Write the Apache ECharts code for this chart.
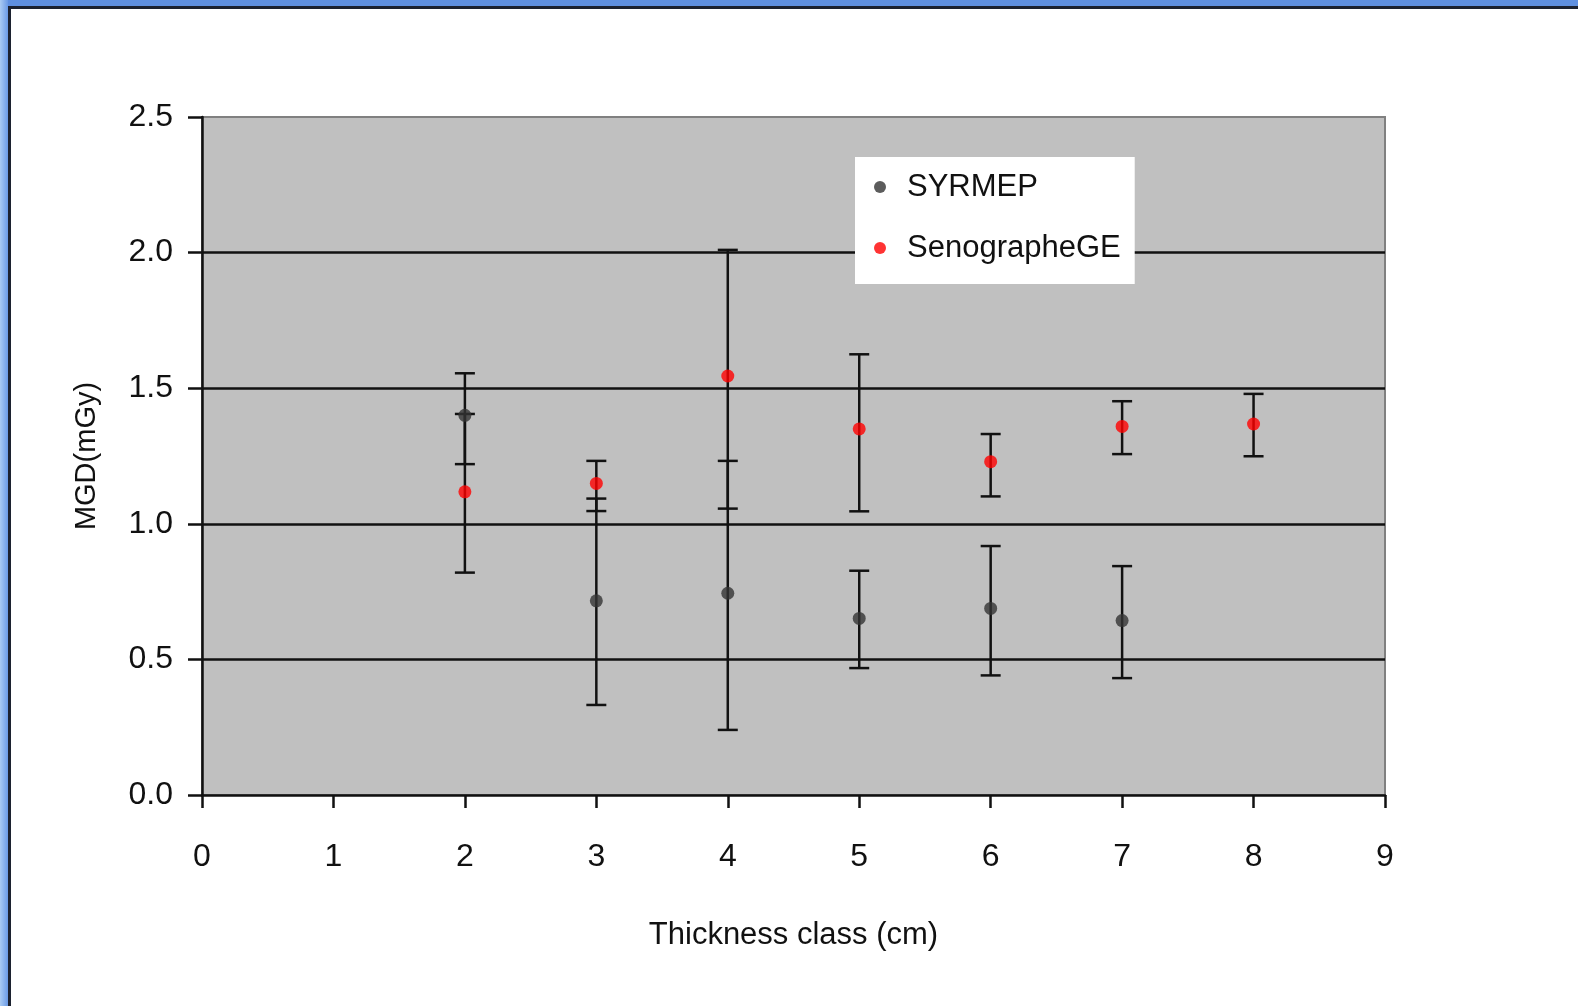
<!DOCTYPE html>
<html>
<head>
<meta charset="utf-8">
<script src="https://cdn.jsdelivr.net/npm/echarts@6/dist/echarts.min.js"></script>
<style>
  html, body { margin: 0; padding: 0; background: #ffffff; }
  #frameTop { position: absolute; left: 0; top: 0; width: 1578px; height: 6px; background: #5f90e0; }
  #frameTopLine { position: absolute; left: 8px; top: 6px; width: 1570px; height: 3px; background: #1c2230; }
  #frameLeft { position: absolute; left: 0; top: 0; width: 8px; height: 1006px; background: linear-gradient(to right, #aacbf3, #6a9ae6); }
  #frameLeftLine { position: absolute; left: 8px; top: 6px; width: 3px; height: 1000px; background: #1c2230; }
  #chart { position: absolute; left: 0; top: 0; width: 1578px; height: 1006px; }
</style>
</head>
<body>
<div id="chart"></div>
<div id="frameTop"></div>
<div id="frameLeft"></div>
<div id="frameTopLine"></div>
<div id="frameLeftLine"></div>
<script>
// Thickness classes (cm)
var classes = [2, 3, 4, 5, 6, 7, 8];
// SYRMEP MGD (mGy) and error bar ends
var syrmep     = [1.40, 0.716, 0.744, 0.651, 0.688, 0.643, null];
var syrmepLow  = [1.22, 0.332, 0.240, 0.468, 0.441, 0.431, null];
var syrmepHigh = [1.555, 1.093, 1.232, 0.827, 0.918, 0.844, null];
// Senographe GE MGD (mGy) and error bar ends
var seno       = [1.118, 1.149, 1.545, 1.350, 1.229, 1.359, 1.368];
var senoLow    = [0.82, 1.047, 1.056, 1.046, 1.101, 1.257, 1.249];
var senoHigh   = [1.405, 1.232, 2.010, 1.625, 1.331, 1.452, 1.479];
// Axis ticks
var xTicks = [0, 1, 2, 3, 4, 5, 6, 7, 8, 9];
var yTicks = [0.0, 0.5, 1.0, 1.5, 2.0, 2.5];

var FONT = "'Liberation Sans Narrow', 'Arial Narrow', 'Liberation Sans', Arial, sans-serif";
var TXT = '#111111';

function pts(vals) {
  var out = [];
  for (var i = 0; i < classes.length; i++) if (vals[i] != null) out.push([classes[i], vals[i]]);
  return out;
}
function errs(lo, hi) {
  var out = [];
  for (var i = 0; i < classes.length; i++) if (lo[i] != null) out.push([classes[i], lo[i], hi[i]]);
  return out;
}
function renderErr(params, api) {
  var x = api.value(0);
  var lo = api.coord([x, api.value(1)]);
  var hi = api.coord([x, api.value(2)]);
  var hw = 10;
  var st = { stroke: '#111111', lineWidth: 2.5 };
  return {
    type: 'group',
    children: [
      { type: 'line', shape: { x1: lo[0], y1: lo[1], x2: hi[0], y2: hi[1] }, style: st },
      { type: 'line', shape: { x1: lo[0] - hw, y1: lo[1], x2: lo[0] + hw, y2: lo[1] }, style: st },
      { type: 'line', shape: { x1: hi[0] - hw, y1: hi[1], x2: hi[0] + hw, y2: hi[1] }, style: st }
    ]
  };
}

var chart = echarts.init(document.getElementById('chart'), null, { renderer: 'canvas' });
chart.setOption({
  animation: false,
  backgroundColor: '#ffffff',
  textStyle: { fontFamily: FONT },
  grid: {
    left: 202, top: 117, right: 193, bottom: 211,
    show: true, backgroundColor: '#c0c0c0', borderColor: '#808080', borderWidth: 2
  },
  legend: {
    left: 855, top: 157,
    orient: 'vertical',
    backgroundColor: '#ffffff',
    padding: [13, 14, 19, 19],
    itemGap: 27,
    itemWidth: 12, itemHeight: 12,
    icon: 'circle',
    data: ['SYRMEP', 'SenographeGE'],
    textStyle: { fontFamily: FONT, fontSize: 31, color: TXT, lineHeight: 34, padding: [0, 0, 0, 16] }
  },
  xAxis: {
    type: 'value', min: 0, max: 9, interval: 1,
    name: 'Thickness class (cm)', nameLocation: 'middle', nameGap: 125,
    nameTextStyle: { fontFamily: FONT, fontSize: 31, color: TXT },
    axisLine: { show: true, onZero: false, lineStyle: { color: '#111111', width: 2.5 } },
    axisTick: { show: true, inside: false, length: 13, lineStyle: { color: '#111111', width: 2.5 } },
    axisLabel: { margin: 46, fontFamily: FONT, fontSize: 32, color: TXT,
      formatter: function (v) { return xTicks.indexOf(v) >= 0 ? String(v) : ''; } },
    splitLine: { show: false }
  },
  yAxis: {
    type: 'value', min: 0, max: 2.5, interval: 0.5,
    name: 'MGD(mGy)', nameLocation: 'middle', nameGap: 101, nameRotate: 90,
    nameTextStyle: { fontFamily: FONT, fontSize: 29, color: TXT },
    axisLine: { show: true, onZero: false, lineStyle: { color: '#111111', width: 2.5 } },
    axisTick: { show: true, inside: false, length: 14, lineStyle: { color: '#111111', width: 2.5 } },
    axisLabel: { margin: 29, fontFamily: FONT, fontSize: 32, color: TXT, padding: [0, 0, 16, 0],
      formatter: function (v) { return yTicks.indexOf(v) >= 0 ? v.toFixed(1) : ''; } },
    splitLine: { show: true, showMinLine: false, showMaxLine: false, lineStyle: { color: '#111111', width: 2.5 } }
  },
  series: [
    { name: 'SYRMEP-err', type: 'custom', renderItem: renderErr, data: errs(syrmepLow, syrmepHigh), z: 3, silent: true },
    { name: 'SenographeGE-err', type: 'custom', renderItem: renderErr, data: errs(senoLow, senoHigh), z: 3, silent: true },
    { name: 'SYRMEP', type: 'scatter', data: pts(syrmep), symbol: 'circle', symbolSize: 13,
      itemStyle: { color: '#333333' }, z: 5 },
    { name: 'SenographeGE', type: 'scatter', data: pts(seno), symbol: 'circle', symbolSize: 13,
      itemStyle: { color: '#ff0000' }, z: 5 }
  ]
});
</script>
</body>
</html>
